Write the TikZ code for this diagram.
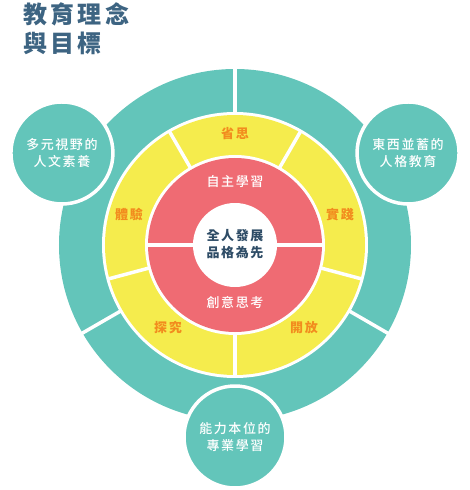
\documentclass[tikz,border=0pt]{standalone}
\usepackage{fontspec}
\usetikzlibrary{positioning}
\newfontfamily\cjk[LetterSpace=12]{Noto Sans CJK TC}
\newfontfamily\cjkmid[LetterSpace=12, UprightFont={* Medium}]{Noto Sans CJK TC}
\newfontfamily\cjkhead[LetterSpace=14]{Noto Sans CJK TC}
\definecolor{IdeaTeal}{HTML}{63C5BA}
\definecolor{IdeaYellow}{HTML}{F5EC4D}
\definecolor{IdeaRed}{HTML}{EF6B73}
\definecolor{IdeaOrange}{HTML}{F28C1E}
\definecolor{IdeaSlate}{HTML}{3D6482}
\definecolor{IdeaInk}{HTML}{2E4C66}

\begin{document}
\begin{tikzpicture}[x=1pt, y=1pt,
        ringlabel/.style={font=\cjkmid\fontsize{13}{17}\selectfont, text=white, align=center, inner sep=0pt},
        steplabel/.style={font=\cjk\bfseries\fontsize{13}{17}\selectfont, text=IdeaOrange, inner sep=0pt},
        coretext/.style={font=\cjk\bfseries\fontsize{13}{17.5}\selectfont, text=IdeaInk, align=center, inner sep=0pt},
        satellite/.style={circle, fill=IdeaTeal, draw=white, line width=3.5pt, minimum size=102pt, inner sep=0pt, ringlabel},
        gap/.style={white, line width=3.5pt}
    ]
    \useasboundingbox (-235,-245) rectangle (235,245);

    % Title
    \node[anchor=west, align=left, inner sep=0pt, text=IdeaSlate, font=\cjkhead\bfseries\fontsize{24}{29.5}\selectfont] (title) at (-212,216.5) {教育理念\\與目標};

    % Rings
    \fill[IdeaTeal] (0,0) circle (176);
    \fill[white] (0,0) circle (133);
    \fill[IdeaYellow] (0,0) circle (130);
    \fill[white] (0,0) circle (90);
    \fill[IdeaRed] (0,0) circle (87);
    \fill[white] (0,0) circle (42);

    % Gaps
    \foreach \a in {90,210,330} \draw[gap] (\a:131) -- (\a:180);
    \foreach \a in {60,120,195,270,345} \draw[gap] (\a:88) -- (\a:131.5);
    \draw[gap] (180:38) -- (180:90);
    \draw[gap] (0:38) -- (0:90);

    % Outer goals
    \node[satellite] (humanities) at (152:196) {多元視野的\\人文素養};
    \node[satellite] (character) at (28:196) {東西並蓄的\\人格教育};
    \node[satellite] (competence) at (270:192) {能力本位的\\專業學習};

    % Learning steps
    \node[steplabel] (reflect) at (0,111) {省思};
    \node[steplabel] (practice) at (105,30) {實踐};
    \node[steplabel] (open) at (69,-83) {開放};
    \node[steplabel] (inquiry) at (-67,-83) {探究};
    \node[steplabel] (experience) at (-106,31) {體驗};

    % Core
    \node[ringlabel] (selfstudy) at (0,63) {自主學習};
    \node[ringlabel] (creative) at (0,-57) {創意思考};
    \node[coretext] (core) at (0,1) {全人發展\\品格為先};
\end{tikzpicture}
\end{document}
